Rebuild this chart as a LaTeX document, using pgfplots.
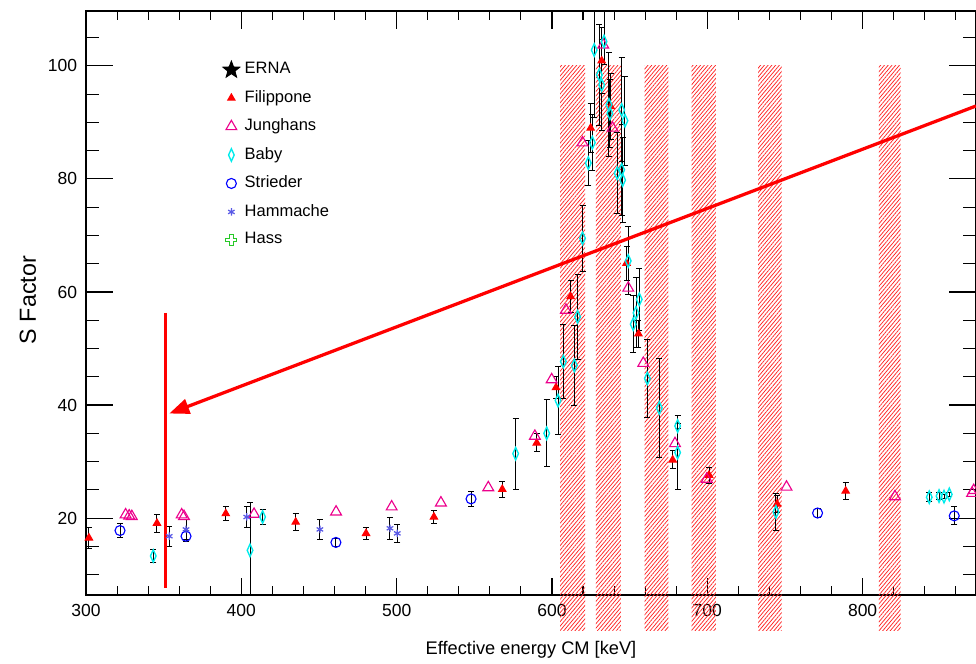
\documentclass[border=0pt]{standalone}
\usepackage{fontspec}
\setmainfont{Liberation Sans}
\usepackage{pgfplots}
\pgfplotsset{compat=1.18}
\usetikzlibrary{patterns.meta,arrows.meta}

\pgfdeclareplotmark{fstar}{%
 \pgfpathmoveto{\pgfpointpolar{90}{\pgfplotmarksize}}%
 \pgfpathlineto{\pgfpointpolar{126}{0.42\pgfplotmarksize}}%
 \pgfpathlineto{\pgfpointpolar{162}{\pgfplotmarksize}}%
 \pgfpathlineto{\pgfpointpolar{198}{0.42\pgfplotmarksize}}%
 \pgfpathlineto{\pgfpointpolar{234}{\pgfplotmarksize}}%
 \pgfpathlineto{\pgfpointpolar{270}{0.42\pgfplotmarksize}}%
 \pgfpathlineto{\pgfpointpolar{306}{\pgfplotmarksize}}%
 \pgfpathlineto{\pgfpointpolar{342}{0.42\pgfplotmarksize}}%
 \pgfpathlineto{\pgfpointpolar{18}{\pgfplotmarksize}}%
 \pgfpathlineto{\pgfpointpolar{54}{0.42\pgfplotmarksize}}%
 \pgfpathclose\pgfusepathqfillstroke}

\pgfdeclareplotmark{ocross}{%
 \pgfpathmoveto{\pgfpoint{0.33\pgfplotmarksize}{\pgfplotmarksize}}%
 \pgfpathlineto{\pgfpoint{0.33\pgfplotmarksize}{0.33\pgfplotmarksize}}%
 \pgfpathlineto{\pgfpoint{\pgfplotmarksize}{0.33\pgfplotmarksize}}%
 \pgfpathlineto{\pgfpoint{\pgfplotmarksize}{-0.33\pgfplotmarksize}}%
 \pgfpathlineto{\pgfpoint{0.33\pgfplotmarksize}{-0.33\pgfplotmarksize}}%
 \pgfpathlineto{\pgfpoint{0.33\pgfplotmarksize}{-\pgfplotmarksize}}%
 \pgfpathlineto{\pgfpoint{-0.33\pgfplotmarksize}{-\pgfplotmarksize}}%
 \pgfpathlineto{\pgfpoint{-0.33\pgfplotmarksize}{-0.33\pgfplotmarksize}}%
 \pgfpathlineto{\pgfpoint{-\pgfplotmarksize}{-0.33\pgfplotmarksize}}%
 \pgfpathlineto{\pgfpoint{-\pgfplotmarksize}{0.33\pgfplotmarksize}}%
 \pgfpathlineto{\pgfpoint{-0.33\pgfplotmarksize}{0.33\pgfplotmarksize}}%
 \pgfpathlineto{\pgfpoint{-0.33\pgfplotmarksize}{\pgfplotmarksize}}%
 \pgfpathclose\pgfusepathqstroke}

\definecolor{hamm}{RGB}{90,90,230}
\definecolor{hassg}{RGB}{40,200,40}
\definecolor{babyc}{RGB}{0,235,235}

\pgfplotsset{eb/.style={error bars/.cd, y dir=both, y explicit,
  error bar style={black, line width=0.4pt, solid},
  error mark options={rotate=90, black, mark size=1.2pt, line width=0.4pt}}}
\tikzset{band/.style={pattern={Lines[angle=50, distance=1.15pt, line width=0.3pt]}, pattern color=red!85}}

\begin{document}
\begin{tikzpicture}
\begin{axis}[
  scale only axis, width=356pt, height=233.6pt,
  xmin=300, xmax=873, ymin=6.4, ymax=109.7,
  clip=false,
  axis line style={black, line width=0.5pt},
  xtick={300,400,...,800}, minor xtick={320,340,...,860},
  ytick={20,40,...,100}, minor ytick={10,15,...,105},
  tick style={black, line width=0.45pt},
  xtick style={/pgfplots/major tick length=7pt,/pgfplots/minor tick length=3.5pt},
  ytick style={/pgfplots/major tick length=10.7pt,/pgfplots/minor tick length=5.3pt},
  /pgf/number format/assume math mode=true,
  ticklabel style={font=\fontsize{7.0}{8.5}\selectfont},
  xlabel={Effective energy CM [keV]},
  ylabel={S Factor},
  xlabel style={font=\fontsize{7.3}{9}\selectfont, at={(axis description cs:0.5,-0.1027)}, anchor=base},
  ylabel style={font=\fontsize{9.3}{11}\selectfont, at={(axis description cs:-0.046,0.505)}, anchor=south},
  legend style={draw=none, fill=none, at={(axis description cs:0.145,0.93)}, anchor=north west,
    font=\fontsize{6.6}{8}\selectfont, row sep=1.1pt, legend cell align=left},
]
% hatched bands
\fill[band] (axis cs:605.2,0.2) rectangle (axis cs:621.3,100);
\fill[band] (axis cs:628.3,0.2) rectangle (axis cs:644.4,100);
\fill[band] (axis cs:659.6,0.2) rectangle (axis cs:675.0,100);
\fill[band] (axis cs:689.9,0.2) rectangle (axis cs:705.6,100);
\fill[band] (axis cs:732.8,0.2) rectangle (axis cs:747.9,100);
\fill[band] (axis cs:810.5,0.2) rectangle (axis cs:824.5,100);

\addlegendimage{only marks, mark=fstar, black, mark size=3.5pt}
\addlegendentry{ERNA}

% Filippone
\addplot[only marks, mark=triangle*, red, mark size=1.7pt, eb] coordinates {
 (301.9,16.5) +- (0,1.9)
 (345.7,19.1) +- (0,1.6)
 (390.0,20.8) +- (0,1.3)
 (435.0,19.3) +- (0,1.5)
 (480.3,17.3) +- (0,1.0)
 (524.0,20.2) +- (0,1.1)
 (568.0,25.1) +- (0,1.4)
 (590.2,33.3) +- (0,1.6)
 (602.6,43.1) +- (0,1.9)
 (612.0,59.2) +- (0,2.8)
 (624.9,89.0) +- (0,4.3)
 (632.0,100.9) +- (0,5.8)
 (637.8,92.8) +- (0,5.8)
 (648.0,65.1) +- (0,3.0)
 (655.7,52.6) +- (0,2.4)
 (677.7,30.3) +- (0,1.6)
 (701.1,27.6) +- (0,1.4)
 (744.9,22.5) +- (0,1.5)
 (789.1,24.8) +- (0,1.5)
};
\addlegendentry{Filippone}

% Junghans
\addplot[only marks, mark=triangle, magenta, mark size=2.5pt, line width=0.45pt] coordinates {
 (325.5,20.6) (327.8,20.4) (329.5,20.3)
 (361.6,20.6) (363.1,20.3)
 (408.2,20.7) (461.0,21.1) (496.8,22.0) (528.5,22.7) (559.0,25.4)
 (589.0,34.5) (599.8,44.5) (609.0,56.8) (619.7,86.4) (633.0,103.7)
 (639.0,89.0) (649.1,60.7) (658.8,47.4) (679.2,33.2) (699.6,26.9)
 (751.0,25.5) (820.8,23.8) (870.5,24.4) (871.5,24.9)
};
\addlegendentry{Junghans}

% Baby
\addplot[only marks, mark=diamond, babyc, mark size=2.5pt, mark options={xscale=0.6, line width=0.55pt}, eb] coordinates {
 (343.3,13.3) +- (0,1.2)
 (405.6,14.3) += (0,8.4) -= (0,7.9)
 (413.7,20.2) +- (0,1.4)
 (576.6,31.4) +- (0,6.3)
 (596.6,35.0) +- (0,5.9)
 (603.9,40.8) +- (0,6.0)
 (607.3,47.7) +- (0,6.6)
 (614.4,47.0) +- (0,7.0)
 (616.5,55.6) +- (0,7.5)
 (619.7,69.5) +- (0,5.8)
 (623.4,82.8) +- (0,4.0)
 (626.0,86.4) +- (0,5.0)
 (627.2,102.8) += (0,6.9) -= (0,12)
 (630.5,98.4) += (0,9.0) -= (0,9.0)
 (632.0,96.6) +- (0,8.0)
 (633.5,104.3) += (0,5.4) -= (0,4)
 (636.7,93.1) +- (0,9.2)
 (637.3,91.6) +- (0,6.0)
 (642.0,81.0) +- (0,7.2)
 (644.9,92.2) +- (0,9.2)
 (647.0,90.3) +- (0,7.9)
 (644.9,81.6) +- (0,8.0)
 (645.5,79.8) +- (0,7.5)
 (649.1,65.5) +- (0,6.0)
 (656.2,58.7) +- (0,5.5)
 (654.1,56.3) +- (0,6.2)
 (652.3,54.3) +- (0,5.0)
 (661.4,44.7) +- (0,6.9)
 (669.1,39.5) +- (0,8.8)
 (680.9,36.3) +- (0,0.5)
 (680.9,31.6) +- (0,6.5)
 (744.2,21.1) +- (0,3.3)
 (842.9,23.7) +- (0,0.8)
 (849.2,23.9) +- (0,0.6)
 (852.4,23.8) +- (0,0.4)
 (855.8,24.2) +- (0,0.4)
};
\addlegendentry{Baby}

% Strieder
\addplot[only marks, mark=o, blue, mark size=2pt, line width=0.45pt, eb] coordinates {
 (321.9,17.8) +- (0,1.3)
 (364.4,16.8) +- (0,1.0)
 (460.9,15.7) +- (0,0.7)
 (547.9,23.4) +- (0,1.3)
 (771.0,20.9) +- (0,0.8)
 (859.0,20.4) +- (0,1.6)
};
\addlegendentry{Strieder}

% Hammache
\addplot[only marks, mark=asterisk, hamm, mark size=1.5pt, line width=0.5pt, eb] coordinates {
 (353.6,16.8) +- (0,1.8)
 (364.4,18.0) +- (0,1.8)
 (403.5,20.2) +- (0,1.9)
 (450.6,18.0) +- (0,1.7)
 (495.7,18.2) +- (0,1.9)
 (500.4,17.3) +- (0,1.6)
};
\addlegendentry{Hammache}

\addlegendimage{only marks, mark=ocross, hassg, mark size=2.2pt, line width=0.45pt}
\addlegendentry{Hass}

% red annotations
\draw[red, line width=1.3pt] (axis cs:351,56.3) -- (axis cs:351,7.6);
\draw[red, line width=1.3pt, -{Triangle[length=8pt,width=6pt]}] (axis cs:873,92.9) -- (axis cs:353.6,38.5);
\end{axis}
\pgfresetboundingbox
\path[use as bounding box] ([xshift=-34.4pt,yshift=-27.2pt]current axis.south west) rectangle ([yshift=4.4pt]current axis.north east);
\end{tikzpicture}
\end{document}
